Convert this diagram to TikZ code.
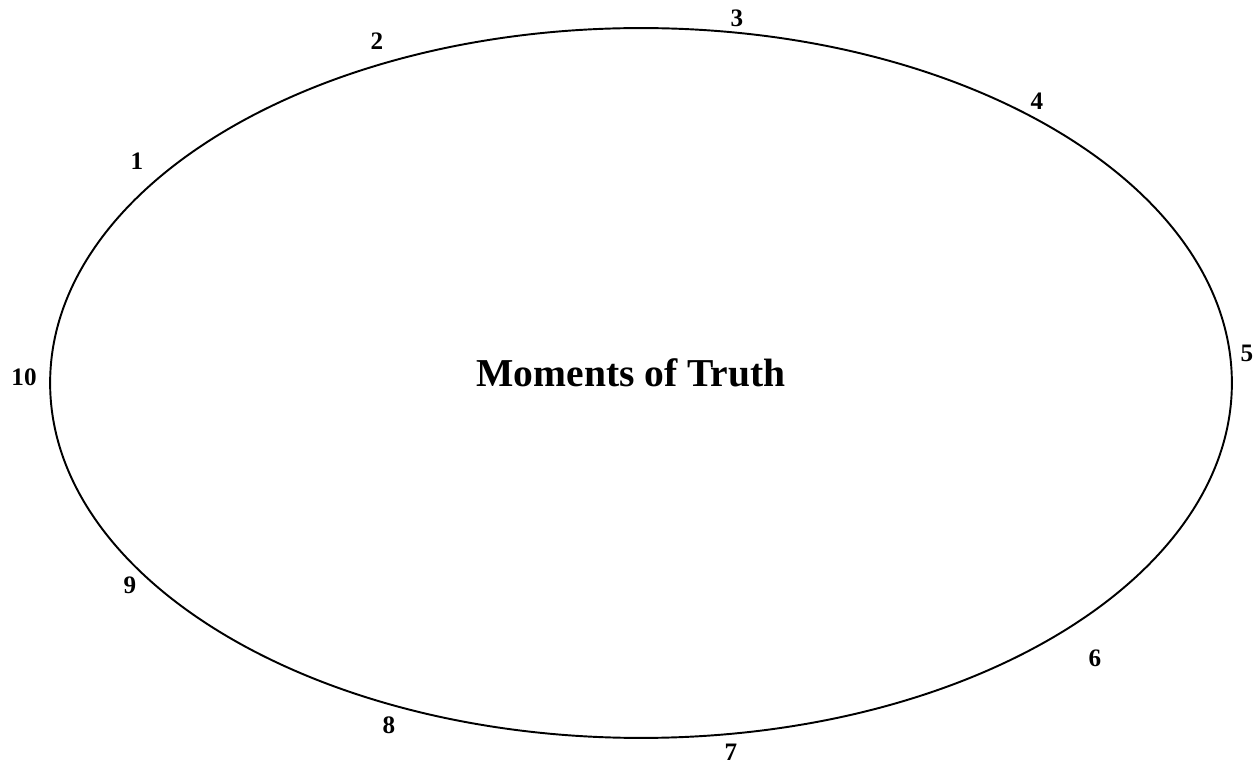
\documentclass[tikz,border=0pt]{standalone}
\usepackage{fontspec}
\setmainfont{Liberation Serif}
\usetikzlibrary{shapes.geometric}

\begin{document}
\begin{tikzpicture}[ x=0.02cm, y=-0.02cm, ring/.style={ ellipse, draw, line width=1.1pt, minimum width=23.64cm, minimum height=14.2cm, inner sep=0pt }, title/.style={ font=\fontsize{22.5}{26}\selectfont\bfseries }, stepnum/.style={ font=\fontsize{14.3}{17}\selectfont\bfseries, inner sep=0pt } ]
\useasboundingbox (0,0) rectangle (1258,766);

% --- Ellisse ---
\node[ring] (ring) at (641,383) {};

% --- Titolo ---
\node[title, anchor=base] (truth) at (631,387) {Moments of Truth};

% --- Numeri ---
\foreach \n/\px/\py in {1/137/161, 2/377/41, 3/737/18, 4/1037/101, 5/1247/353, 6/1095/658, 7/731/752, 8/389/725, 9/130/585, 10/24/377}
  \node[stepnum] (num\n) at (\px,\py) {\n};
\end{tikzpicture}
\end{document}
